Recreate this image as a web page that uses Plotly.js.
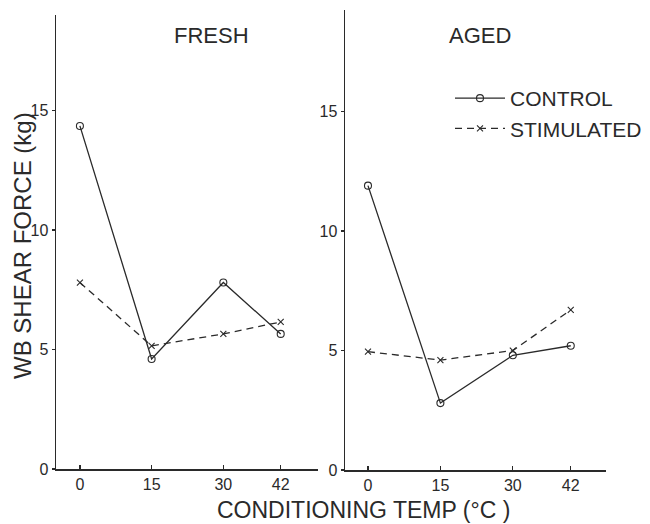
<!DOCTYPE html>
<html>
<head>
<meta charset="utf-8">
<script src="https://cdn.plot.ly/plotly-3.0.1.min.js"></script>
<style>html,body{margin:0;padding:0;background:#fff;}#chart{width:650px;height:524px;}</style>
</head>
<body>
<div id="chart"></div>
<script>
// ---- data ----
const temps = [0, 15, 30, 42];
const tickTemps = [0, 15, 30, 42];
const tickTempLabels = ["0", "15", "30", "42"];
const tickForce = [0, 5, 10, 15];
const tickForceLabels = ["0", "5", "10", "15"];
const freshControl = [14.35, 4.6, 7.8, 5.65];
const freshStimulated = [7.8, 5.15, 5.65, 6.15];
const agedControl = [11.9, 2.8, 4.8, 5.2];
const agedStimulated = [4.95, 4.6, 5.0, 6.7];
const seriesNames = ["CONTROL", "STIMULATED"];
const panelTitles = ["FRESH", "AGED"];
const xTitle = "CONDITIONING TEMP (°C )";
const yTitle = "WB SHEAR FORCE (kg)";

const ink = "#2a2a2a";
const FONT = "Liberation Sans, Arial, sans-serif";

function ctrl(y, xa, ya, show) {
  return {x: temps, y: y, xaxis: xa, yaxis: ya, type: "scatter", mode: "lines+markers",
    name: seriesNames[0], legendgroup: "c", showlegend: show,
    line: {color: ink, width: 1.3},
    marker: {symbol: "circle-open", size: 7, color: ink, line: {width: 1.1, color: ink}}};
}
function stim(y, xa, ya, show) {
  return {x: temps, y: y, xaxis: xa, yaxis: ya, type: "scatter", mode: "lines+markers",
    name: seriesNames[1], legendgroup: "s", showlegend: show,
    line: {color: ink, width: 1.3, dash: "7px,5px"},
    marker: {symbol: "x-thin-open", size: 6, color: ink, line: {width: 1.1, color: ink}}};
}

const data = [
  ctrl(freshControl, "x", "y", true),
  stim(freshStimulated, "x", "y", true),
  ctrl(agedControl, "x2", "y2", false),
  stim(agedStimulated, "x2", "y2", false)
];

const W = 650, H = 524;
function xaxisCfg(left, right, range) {
  return {domain: [left / W, right / W], range: range, showline: true, linecolor: ink, linewidth: 1.5,
    showgrid: false, zeroline: false, ticks: "inside", ticklen: 4, tickcolor: ink, tickwidth: 1.2,
    tickvals: tickTemps, ticktext: tickTempLabels, tickfont: {family: FONT, size: 16, color: ink},
    fixedrange: true};
}
function yaxisCfg(top, bottom, range, anchor) {
  return {domain: [1 - bottom / H, 1 - top / H], range: range, anchor: anchor, showline: true, linecolor: ink,
    linewidth: 1.5, showgrid: false, zeroline: false, ticks: "outside", ticklen: 3, tickcolor: ink,
    tickwidth: 1.2, tickvals: tickForce, ticktext: tickForceLabels,
    tickfont: {family: FONT, size: 16, color: ink}, fixedrange: true};
}

const xa = xaxisCfg(56, 318, [-5.0, 49.8]); xa.anchor = "y";
const xa2 = xaxisCfg(345, 606, [-4.76, 49.3]); xa2.anchor = "y2";
const ya = yaxisCfg(15, 469, [0, 18.99], "x");
const ya2 = yaxisCfg(10, 470, [0, 19.25], "x2");

const layout = {
  width: W, height: H,
  margin: {l: 0, r: 0, t: 0, b: 0},
  paper_bgcolor: "#fff", plot_bgcolor: "#fff",
  font: {family: FONT, color: ink},
  xaxis: xa, yaxis: ya, xaxis2: xa2, yaxis2: ya2,
  showlegend: true,
  legend: {x: 450 / W, y: 1 - 78 / H, xanchor: "left", yanchor: "top", bgcolor: "rgba(0,0,0,0)",
    font: {family: FONT, size: 21, color: ink}, itemwidth: 50, tracegroupgap: 0},
  annotations: [
    {text: panelTitles[0], xref: "paper", yref: "paper", x: 212 / W, y: 1 - 35 / H, showarrow: false,
     xanchor: "center", yanchor: "middle", font: {family: FONT, size: 22, color: ink}},
    {text: panelTitles[1], xref: "paper", yref: "paper", x: 480 / W, y: 1 - 35 / H, showarrow: false,
     xanchor: "center", yanchor: "middle", font: {family: FONT, size: 22, color: ink}},
    {text: xTitle, xref: "paper", yref: "paper", x: 363 / W, y: 1 - 510 / H, showarrow: false,
     xanchor: "center", yanchor: "middle", font: {family: FONT, size: 23, color: ink}},
    {text: yTitle, xref: "paper", yref: "paper", x: 23 / W, y: 1 - 246 / H, showarrow: false,
     textangle: -90, xanchor: "center", yanchor: "middle", font: {family: FONT, size: 24, color: ink}}
  ]
};

Plotly.newPlot("chart", data, layout, {staticPlot: true, displayModeBar: false});
</script>
</body>
</html>
